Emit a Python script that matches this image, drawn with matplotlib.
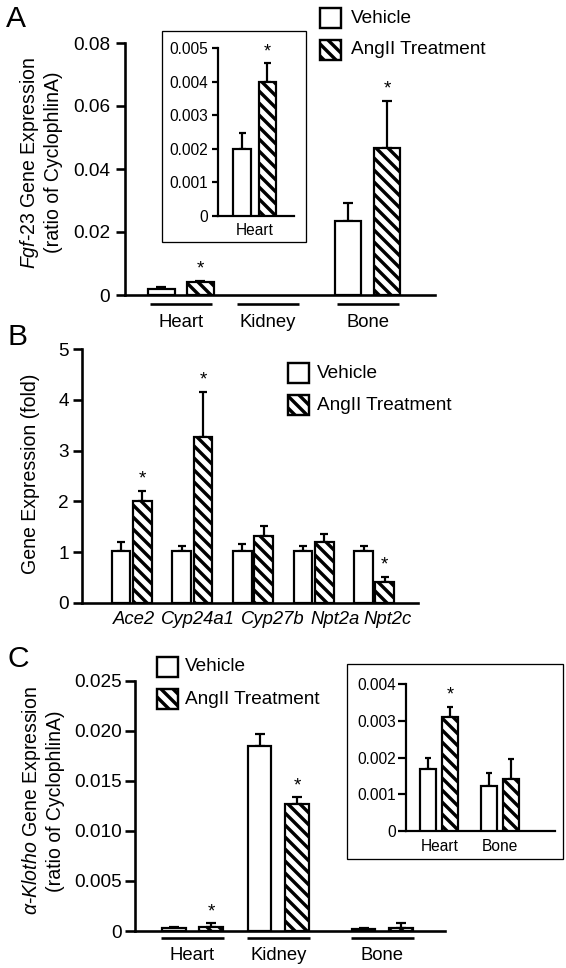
import matplotlib

matplotlib.use("Agg")
import matplotlib.pyplot as plt
import numpy as np
from matplotlib.patches import Rectangle

plt.rcParams["font.family"] = ["Liberation Sans", "DejaVu Sans"]
plt.rcParams["mathtext.fontset"] = "custom"
plt.rcParams["mathtext.rm"] = "Liberation Sans"
plt.rcParams["mathtext.it"] = "Liberation Sans:italic"
plt.rcParams["hatch.linewidth"] = 3.4
plt.rcParams["hatch.color"] = "black"

HATCH = "\\\\"  # two back-slashes -> stripes ~12 px apart at 72 dpi

# ---- data -------------------------------------------------------------
legend_labels = ["Vehicle", "AngII Treatment"]

# A: Fgf-23 expression (ratio of CyclophlinA)
a_tissues = ["Heart", "Kidney", "Bone"]
a_veh = [0.002, np.nan, 0.0235]
a_veh_err = [0.0005, np.nan, 0.0056]
a_ang = [0.004, np.nan, 0.0468]
a_ang_err = [0.00055, np.nan, 0.0149]
a_star = [True, False, True]
a_ticks = [0, 0.02, 0.04, 0.06, 0.08]
a_ticklabels = ["0", "0.02", "0.04", "0.06", "0.08"]

# A inset: heart only
ai_tissues = ["Heart"]
ai_veh = [0.002]
ai_veh_err = [0.00047]
ai_ang = [0.004]
ai_ang_err = [0.00055]
ai_star = [True]
ai_ticks = [0, 0.001, 0.002, 0.003, 0.004, 0.005]
ai_ticklabels = ["0", "0.001", "0.002", "0.003", "0.004", "0.005"]

# B: gene expression (fold)
b_genes = ["Ace2", "Cyp24a1", "Cyp27b", "Npt2a", "Npt2c"]
b_veh = [1.02, 1.02, 1.02, 1.02, 1.02]
b_veh_err = [0.18, 0.09, 0.13, 0.09, 0.09]
b_ang = [2.0, 3.26, 1.32, 1.2, 0.41]
b_ang_err = [0.21, 0.9, 0.19, 0.15, 0.1]
b_star = [True, True, False, False, True]
b_ticks = [0, 1, 2, 3, 4, 5]
b_ticklabels = ["0", "1", "2", "3", "4", "5"]

# C: alpha-Klotho expression (ratio of CyclophlinA)
c_tissues = ["Heart", "Kidney", "Bone"]
c_veh = [0.0003, 0.0185, 0.0002]
c_veh_err = [0.0001, 0.00117, 0.0001]
c_ang = [0.0004, 0.01265, 0.0003]
c_ang_err = [0.0004, 0.00073, 0.0005]
c_star = [True, True, False]
c_ticks = [0, 0.005, 0.010, 0.015, 0.020, 0.025]
c_ticklabels = ["0", "0.005", "0.010", "0.015", "0.020", "0.025"]

# C inset: heart and bone
ci_tissues = ["Heart", "Bone"]
ci_veh = [0.00168, 0.00123]
ci_veh_err = [0.00032, 0.00034]
ci_ang = [0.00312, 0.00141]
ci_ang_err = [0.00027, 0.00054]
ci_star = [True, False]
ci_ticks = [0, 0.001, 0.002, 0.003, 0.004]
ci_ticklabels = ["0", "0.001", "0.002", "0.003", "0.004"]

# ---- figure -----------------------------------------------------------
W, H = 566, 968
fig = plt.figure(figsize=(W / 72, H / 72), dpi=72)


def axes_px(left, right, top, bottom):
    return fig.add_axes([left / W, 1 - bottom / H, (right - left) / W, (bottom - top) / H])


def style(ax, lw, ticklen, fs, pad, ticks, labels):
    for s in ("top", "right"):
        ax.spines[s].set_visible(False)
    for s in ("left", "bottom"):
        ax.spines[s].set_linewidth(lw)
    ax.set_yticks(ticks, labels)
    ax.set_ylim(ticks[0], ticks[-1])
    ax.tick_params(axis="y", direction="out", length=ticklen, width=lw, labelsize=fs, pad=pad)
    ax.tick_params(axis="x", length=0)
    ax.set_xticks([])
    ax.patch.set_alpha(0)


def pairs(ax, centers, offset, width, veh, veh_err, ang, ang_err, stars,
          edge_lw=2.2, err_lw=2.2, cap=5, star_fs=19):
    centers = np.asarray(centers, float)
    for xs, vals, errs, hatch in ((centers - offset, veh, veh_err, None),
                                  (centers + offset, ang, ang_err, HATCH)):
        vals = np.asarray(vals, float)
        errs = np.asarray(errs, float)
        ok = np.isfinite(vals)
        ax.errorbar(xs[ok], vals[ok], yerr=[np.zeros(ok.sum()), errs[ok]], fmt="none",
                    ecolor="black", elinewidth=err_lw, capsize=cap, capthick=err_lw, zorder=2)
        ax.bar(xs[ok], vals[ok], width, color="white", edgecolor="black",
               linewidth=edge_lw, hatch=hatch, zorder=3)
    ang = np.asarray(ang, float)
    ang_err = np.asarray(ang_err, float)
    for i, s in enumerate(stars):
        if s:
            ax.annotate("*", (centers[i] + offset, ang[i] + ang_err[i]), xytext=(0, 7),
                        textcoords="offset points", ha="center", va="baseline",
                        fontsize=star_fs)


def group_lines(ax, centers, labels, half, y_line, y_text, fs):
    tr = ax.get_xaxis_transform()
    for c, lab in zip(centers, labels):
        ax.plot([c - half, c + half], [y_line, y_line], color="black", lw=2.6,
                transform=tr, clip_on=False, solid_capstyle="butt")
        ax.text(c, y_text, lab, transform=tr, ha="center", va="center", fontsize=fs)


def group_text(ax, centers, labels, y_text, fs):
    tr = ax.get_xaxis_transform()
    for c, lab in zip(centers, labels):
        ax.text(c, y_text, lab, transform=tr, ha="center", va="center", fontsize=fs)


def frame(left, right, top, bottom):
    fig.add_artist(Rectangle((left / W, 1 - bottom / H), (right - left) / W, (bottom - top) / H,
                             transform=fig.transFigure, fill=False, lw=1.3, ec="black"))


def key(x, tops, text_x, w=21, h=20, fs=19):
    for top, hatch, lab in zip(tops, (None, HATCH), legend_labels):
        fig.add_artist(Rectangle((x / W, 1 - (top + h) / H), w / W, h / H,
                                 transform=fig.transFigure, facecolor="white",
                                 edgecolor="black", lw=2.4, hatch=hatch))
        fig.text(text_x / W, 1 - (top + h / 2) / H, lab, ha="left", va="center", fontsize=fs)


def letter(x, y, s):
    fig.text(x / W, 1 - y / H, s, ha="center", va="center", fontsize=30)


def ylabel(x, y, s):
    fig.text(x / W, 1 - y / H, s, rotation=90, ha="center", va="center",
             multialignment="center", fontsize=19.5, linespacing=1.2)


# ---- panel A ----------------------------------------------------------
ax = axes_px(124.6, 434.7, 43, 295)
style(ax, 2.6, 9.5, 19, 5, a_ticks, a_ticklabels)
a_pos = np.array([0, 1, 2.146])
ax.set_xlim(-0.648, 2.916)
pairs(ax, a_pos, 0.224, 0.30, a_veh, a_veh_err, a_ang, a_ang_err, a_star)
group_lines(ax, a_pos, a_tissues, 0.356, -0.036, -0.111, 18.5)
ylabel(40.6, 162.5, "$\\it{Fgf}$-23 Gene Expression\n(ratio of CyclophlinA)")
letter(16, 19, "A")

frame(161.7, 305.7, 31, 242.3)
axi = axes_px(218.3, 294, 48.3, 216)
style(axi, 2.2, 6.5, 15.5, 4, ai_ticks, ai_ticklabels)
axi.set_xlim(-0.721, 0.775)
pairs(axi, [0], 0.25, 0.346, ai_veh, ai_veh_err, ai_ang, ai_ang_err, ai_star, cap=3.5, star_fs=18)
group_text(axi, [0], ai_tissues, -0.089, 15.5)
key(319.7, [8.3, 40], 350.7)

# ---- panel B ----------------------------------------------------------
bx = axes_px(81.7, 418, 349.3, 602.7)
style(bx, 2.6, 9, 19, 4, b_ticks, b_ticklabels)
b_pos = np.arange(len(b_genes))
bx.set_xlim(-0.825, 4.724)
pairs(bx, b_pos, 0.175, 0.31, b_veh, b_veh_err, b_ang, b_ang_err, b_star, cap=3.8)
label_shift = np.array([0.04, 0.09, 0.33, 0.35, 0.22])
bx.set_xticks(b_pos + label_shift, b_genes, fontstyle="italic", fontsize=18.5)
bx.tick_params(axis="x", length=0, pad=8)
ylabel(30.7, 474, "Gene Expression (fold)")
letter(17, 337, "B")
key(288, [363, 395], 317)

# ---- panel C ----------------------------------------------------------
cx = axes_px(135, 445, 680.7, 931)
style(cx, 2.6, 10, 19, 3, c_ticks, c_ticklabels)
c_pos = np.array([0, 1, 2.212])
cx.set_xlim(-0.670, 2.943)
pairs(cx, c_pos, 0.218, 0.274, c_veh, c_veh_err, c_ang, c_ang_err, c_star)
group_lines(cx, c_pos, c_tissues, 0.367, -0.026, -0.096, 18.5)
ylabel(42.3, 801, "$\\it{α}$-$\\it{Klotho}$ Gene Expression\n(ratio of CyclophlinA)")
letter(18, 659, "C")
key(156.7, [656.7, 689], 185)

frame(346.7, 562.7, 664, 859)
cxi = axes_px(406, 555, 684.3, 831)
style(cxi, 2.2, 8, 15.5, 2, ci_ticks, ci_ticklabels)
ci_pos = np.array([0, 1])
cxi.set_xlim(-0.546, 1.905)
pairs(cxi, ci_pos, 0.184, 0.263, ci_veh, ci_veh_err, ci_ang, ci_ang_err, ci_star, cap=2.8, star_fs=18)
group_text(cxi, ci_pos, ci_tissues, -0.109, 15.5)

fig.savefig("out.png", dpi=72)
